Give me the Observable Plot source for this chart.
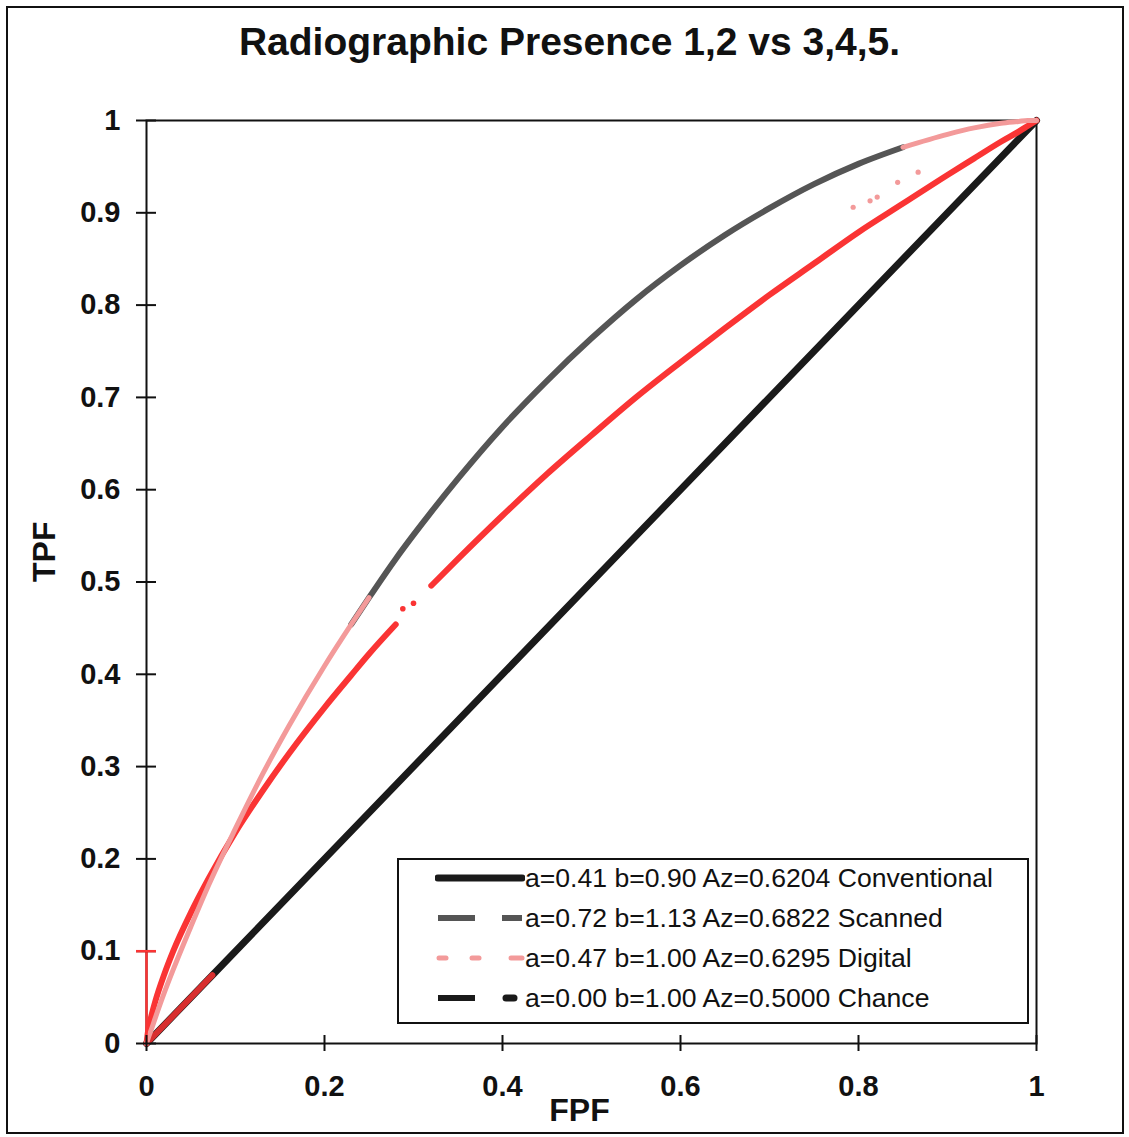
<!DOCTYPE html>
<html><head><meta charset="utf-8">
<script src="https://cdn.jsdelivr.net/npm/d3@7"></script>
<script src="https://cdn.jsdelivr.net/npm/@observablehq/plot@0.6"></script>
<style>
html,body{margin:0;padding:0;background:#fff;}
#wrap{position:relative;width:1129px;height:1137px;overflow:hidden;font-family:"Liberation Sans",Arial,sans-serif;background:#fff;}
#border{position:absolute;left:6px;top:6px;width:1118px;height:1128px;border:2px solid #111;box-sizing:border-box;pointer-events:none;}
#legend{position:absolute;left:397px;top:858px;width:632px;height:166px;border:2px solid #111;box-sizing:border-box;background:#fff;}
.row{position:absolute;left:435px;height:40px;display:flex;align-items:center;}
.row svg{display:block;flex:none;}
.row span{font-size:26.6px;color:#111;white-space:nowrap;margin-left:0px;}
</style>
</head><body>
<div id="wrap">
  <div id="chart"></div>
  <div id="border"></div>
  <div id="legend"></div>
</div>
<script>
// ---- data ----
const title = "Radiographic Presence 1,2 vs 3,4,5.";
const xTicks = [0, 0.2, 0.4, 0.6, 0.8, 1];
const xTickLabels = ["0", "0.2", "0.4", "0.6", "0.8", "1"];
const yTicks = [0, 0.1, 0.2, 0.3, 0.4, 0.5, 0.6, 0.7, 0.8, 0.9, 1];
const yTickLabels = ["0", "0.1", "0.2", "0.3", "0.4", "0.5", "0.6", "0.7", "0.8", "0.9", "1"];

const fpf = [0, 0.002, 0.005, 0.01, 0.02, 0.03, 0.05, 0.07, 0.1, 0.13,
             0.16, 0.2, 0.23, 0.25, 0.28, 0.3, 0.32, 0.35, 0.4, 0.45,
             0.5, 0.55, 0.6, 0.65, 0.7, 0.75, 0.8, 0.85, 0.9, 0.93,
             0.96, 0.98, 0.99, 1];
const conventionalTpf = [0, 0.015, 0.028, 0.046, 0.075, 0.100, 0.142, 0.179, 0.229, 0.273,
             0.314, 0.364, 0.399, 0.422, 0.454, 0.475, 0.496, 0.525, 0.572, 0.617,
             0.659, 0.700, 0.738, 0.775, 0.811, 0.845, 0.879, 0.910, 0.941, 0.959,
             0.977, 0.988, 0.994, 1];
const scannedTpf = [0, 0.006, 0.014, 0.028, 0.055, 0.080, 0.127, 0.172, 0.233, 0.291,
             0.344, 0.409, 0.454, 0.483, 0.525, 0.551, 0.576, 0.612, 0.668, 0.718,
             0.764, 0.806, 0.843, 0.876, 0.905, 0.931, 0.953, 0.971, 0.985, 0.992,
             0.997, 0.999, 1.0, 1];
const conventionalGapFpf = [0.288, 0.300];
const conventionalGapTpf = [0.471, 0.477];
const digitalFpf = [0.794, 0.813, 0.821, 0.844, 0.867];
const digitalTpf = [0.906, 0.913, 0.917, 0.933, 0.944];
const chanceFpf = [0, 0.074, 1];
const chanceTpf = [0, 0.074, 1];

const legendLabels = [
  "a=0.41 b=0.90 Az=0.6204 Conventional",
  "a=0.72 b=1.13 Az=0.6822 Scanned",
  "a=0.47 b=1.00 Az=0.6295 Digital",
  "a=0.00 b=1.00 Az=0.5000 Chance"
];

// ---- styles ----
const RED = "#fa3434", GRAY = "#555555", PINK = "#f39a9a", BLACK = "#1a1a1a";

const conv = fpf.map((x, i) => ({fpf: x, tpf: conventionalTpf[i]}));
const scan = fpf.map((x, i) => ({fpf: x, tpf: scannedTpf[i]}));
const gap = conventionalGapFpf.map((x, i) => ({fpf: x, tpf: conventionalGapTpf[i]}));
const dig = digitalFpf.map((x, i) => ({fpf: x, tpf: digitalTpf[i]}));
const chance = chanceFpf.map((x, i) => ({fpf: x, tpf: chanceTpf[i]}));

const lineOpts = {x: "fpf", y: "tpf", curve: "monotone-x", strokeLinecap: "round", strokeLinejoin: "round"};

const chart = Plot.plot({
  width: 1129,
  height: 1137,
  marginLeft: 146,
  marginRight: 93,
  marginTop: 120,
  marginBottom: 94,
  style: {fontFamily: "'Liberation Sans', Arial, sans-serif", color: "#111", background: "#fff", overflow: "visible"},
  x: {domain: [0, 1]},
  y: {domain: [0, 1]},
  marks: [
    Plot.frame({stroke: "#111", strokeWidth: 2}),
    Plot.line(chance, {...lineOpts, curve: "linear", stroke: BLACK, strokeWidth: 7}),
    Plot.line(chance.filter(d => d.fpf <= 0.074), {...lineOpts, curve: "linear", stroke: RED, strokeWidth: 6, strokeOpacity: 0.85}),
    Plot.line(scan.filter(d => d.fpf >= 0.23 && d.fpf <= 0.85), {...lineOpts, stroke: GRAY, strokeWidth: 6}),
    Plot.line(conv.filter(d => d.fpf <= 0.28), {...lineOpts, stroke: RED, strokeWidth: 6}),
    Plot.line(conv.filter(d => d.fpf >= 0.32), {...lineOpts, stroke: RED, strokeWidth: 6}),
    Plot.dot(gap, {x: "fpf", y: "tpf", r: 2.8, fill: RED}),
    Plot.line(scan.filter(d => d.fpf <= 0.25), {...lineOpts, stroke: PINK, strokeWidth: 5}),
    Plot.line(scan.filter(d => d.fpf >= 0.85), {...lineOpts, stroke: PINK, strokeWidth: 5}),
    Plot.dot(dig, {x: "fpf", y: "tpf", r: 2.6, fill: PINK}),
    Plot.ruleX([0], {y1: 0, y2: 0.1, stroke: RED, strokeWidth: 2.5}),
    Plot.axisY(yTicks, {anchor: "left", tickSize: 20, insetLeft: 10, tickPadding: 16, strokeWidth: 2,
      fontSize: 29, fontWeight: "bold", label: null,
      tickFormat: d => yTickLabels[yTicks.indexOf(d)]}),
    Plot.axisY([0.1], {anchor: "left", tickSize: 20, insetLeft: 10, stroke: RED, strokeWidth: 2.5, label: null,
      tickFormat: () => ""}),
    Plot.axisX(xTicks, {anchor: "bottom", tickSize: 16, insetBottom: 8, tickPadding: 24, strokeWidth: 2,
      fontSize: 29, fontWeight: "bold", label: null,
      tickFormat: d => xTickLabels[xTicks.indexOf(d)]}),
    Plot.text([title], {text: d => d, frameAnchor: "top", dx: -22, dy: -78, lineAnchor: "middle",
      fontSize: 39, fontWeight: "bold", fill: "#111"}),
    Plot.text(["FPF"], {text: d => d, frameAnchor: "bottom", dx: -12, dy: 67, lineAnchor: "middle",
      fontSize: 32, fontWeight: "bold", fill: "#111"}),
    Plot.text(["TPF"], {text: d => d, frameAnchor: "left", dx: -102, rotate: -90, lineAnchor: "middle",
      fontSize: 32, fontWeight: "bold", fill: "#111"})
  ]
});
document.getElementById("chart").appendChild(chart);

// ---- legend ----
const samples = [
  `<line x1="3" y1="10" x2="87" y2="10" stroke="${BLACK}" stroke-width="7" stroke-linecap="round"/>`,
  `<line x1="3" y1="10" x2="40" y2="10" stroke="${GRAY}" stroke-width="6"/><line x1="67" y1="10" x2="87" y2="10" stroke="${GRAY}" stroke-width="6"/>`,
  `<line x1="4" y1="10" x2="11" y2="10" stroke="${PINK}" stroke-width="5" stroke-linecap="round"/><line x1="37" y1="10" x2="44" y2="10" stroke="${PINK}" stroke-width="5" stroke-linecap="round"/><line x1="76" y1="10" x2="87" y2="10" stroke="${PINK}" stroke-width="5" stroke-linecap="round"/>`,
  `<line x1="3" y1="10" x2="40" y2="10" stroke="${BLACK}" stroke-width="6"/><line x1="71" y1="10" x2="79" y2="10" stroke="${BLACK}" stroke-width="7" stroke-linecap="round"/>`
];
const rowCenters = [878, 918, 958, 998];
const wrap = document.getElementById("wrap");
legendLabels.forEach((lab, i) => {
  const row = document.createElement("div");
  row.className = "row";
  row.style.top = (rowCenters[i] - 20) + "px";
  row.innerHTML = `<svg width="90" height="20">${samples[i]}</svg><span>${lab}</span>`;
  wrap.appendChild(row);
});
</script>
</body></html>
